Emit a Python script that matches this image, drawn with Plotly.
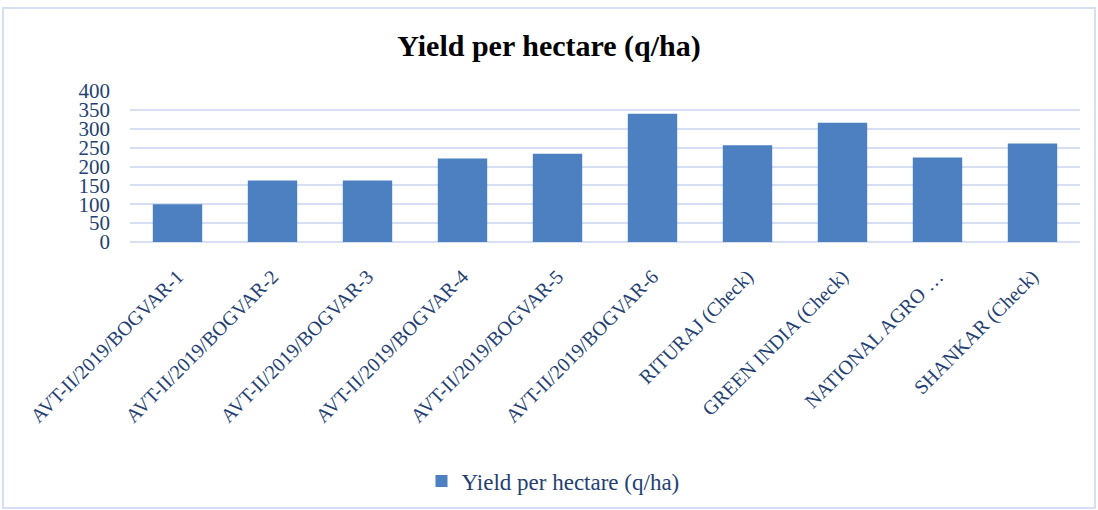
import plotly.graph_objects as go

categories = [
    "AVT-II/2019/BOGVAR-1",
    "AVT-II/2019/BOGVAR-2",
    "AVT-II/2019/BOGVAR-3",
    "AVT-II/2019/BOGVAR-4",
    "AVT-II/2019/BOGVAR-5",
    "AVT-II/2019/BOGVAR-6",
    "RITURAJ (Check)",
    "GREEN INDIA (Check)",
    "NATIONAL AGRO …",
    "SHANKAR (Check)",
]
yield_q_ha = [100, 163, 163, 221, 234, 340, 256, 316, 224, 261]
series_name = "Yield per hectare (q/ha)"
y_ticks = [0, 50, 100, 150, 200, 250, 300, 350, 400]

W, H = 1098, 510
L, R, T, B = 130, 18, 91, 268
pw = W - L - R
ph = H - T - B

def px2x(x):
    return (x - L) / pw

def px2y(y):
    return (H - B - y) / ph

text_color = "#243F73"
grid_color = "#D6E0F2"
font_family = "Liberation Serif, Times New Roman, serif"

fig = go.Figure()
fig.add_trace(go.Bar(
    x=categories,
    y=yield_q_ha,
    name=series_name,
    marker=dict(color="#4D80C0", line=dict(width=0)),
    showlegend=True,
))

fig.update_layout(
    width=W, height=H,
    margin=dict(l=L, r=R, t=T, b=B, autoexpand=False),
    paper_bgcolor="white",
    plot_bgcolor="white",
    bargap=0.48,
    title=dict(
        text="<b>Yield per hectare (q/ha)</b>",
        x=0.5, xanchor="center",
        y=1 - 45 / H, yanchor="middle", yref="container",
        font=dict(family=font_family, size=30, color="black"),
    ),
    font=dict(family=font_family, color=text_color),
    yaxis=dict(
        range=[0, 400],
        tickvals=y_ticks,
        ticktext=[str(v) for v in y_ticks],
        showgrid=True, gridcolor=grid_color, gridwidth=2,
        zeroline=True, zerolinecolor=grid_color, zerolinewidth=2,
        showline=False,
        tickfont=dict(family=font_family, size=21, color=text_color),
        ticks="", ticklabelstandoff=19,
    ),
    xaxis=dict(
        tickangle=-45,
        tickfont=dict(family=font_family, size=20, color=text_color),
        showgrid=False, showline=False, ticks="",
        ticklabelstandoff=18,
    ),
    legend=dict(
        orientation="h",
        x=px2x(553), xanchor="center",
        y=px2y(481), yanchor="middle",
        font=dict(family=font_family, size=23, color=text_color),
        bgcolor="rgba(0,0,0,0)",
    ),
    shapes=[
        dict(
            type="rect", xref="paper", yref="paper",
            x0=px2x(3), x1=px2x(1095), y0=px2y(508), y1=px2y(8),
            line=dict(color="#D6E0F2", width=2),
            fillcolor="rgba(0,0,0,0)", layer="below",
        )
    ],
)

fig.write_html(
    "out.html",
    config={"displayModeBar": False},
    post_script="document.body.style.margin='0';",
)
